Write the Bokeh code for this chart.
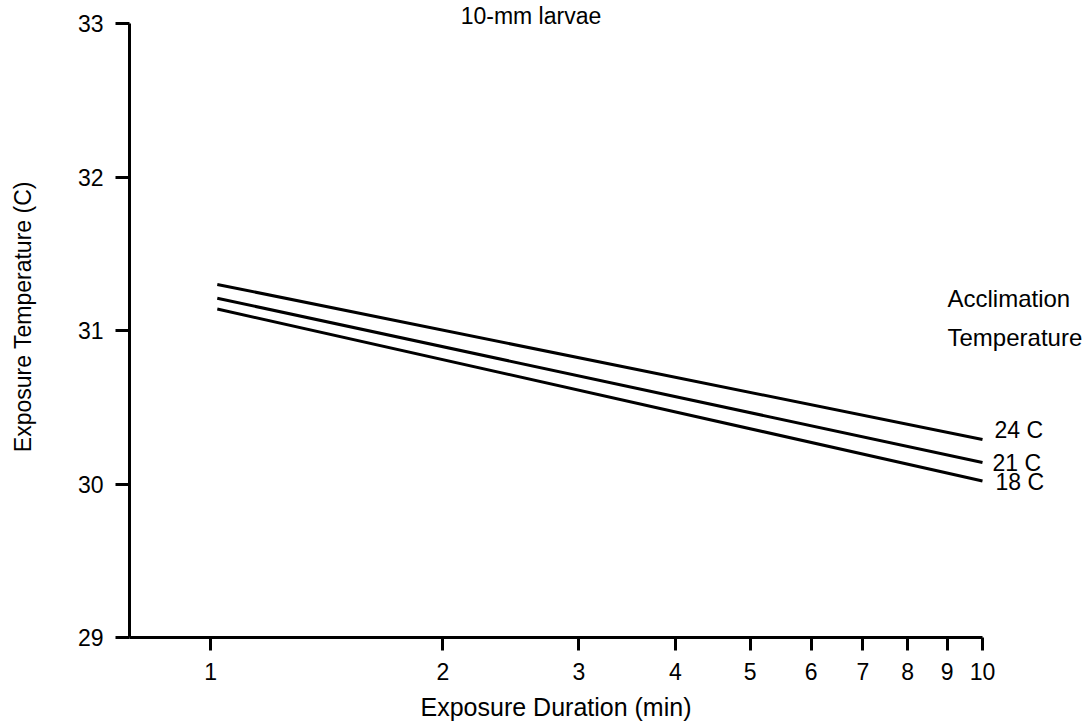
import math
from bokeh.plotting import figure
from bokeh.models import Range1d, FixedTicker, Label, LogAxis, LinearAxis, LogScale
from bokeh.embed import file_html
from bokeh.resources import INLINE

# ---- data ----
durations = [1.02, 10.0]              # exposure duration (min)
temp_24 = [31.30, 30.29]              # acclimation 24 C
temp_21 = [31.21, 30.14]              # acclimation 21 C
temp_18 = [31.14, 30.02]              # acclimation 18 C
series_names = ["24 C", "21 C", "18 C"]
series_values = [temp_24, temp_21, temp_18]
x_ticks = [1, 2, 3, 4, 5, 6, 7, 8, 9, 10]
y_ticks = [29, 30, 31, 32, 33]
x_axis_min, x_axis_max = 0.785, 10
y_axis_min, y_axis_max = 29, 33

FONT = "Liberation Sans"
FS = "23px"
W, H = 1090, 724

# The frame spans the whole canvas so that texts outside the axes box are not clipped;
# the axes are pinned at the data origin with fixed_location.
left_px, right_px, top_px, bottom_px = 129, 982, 23, 637
dec_px = (right_px - left_px) / (math.log10(x_axis_max) - math.log10(x_axis_min))
lx0 = math.log10(x_axis_min) - left_px / dec_px
lx1 = lx0 + W / dec_px
unit_px = (bottom_px - top_px) / (y_axis_max - y_axis_min)
y_top = y_axis_max + top_px / unit_px
y_bot = y_axis_min - (H - bottom_px) / unit_px

p = figure(width=W, height=H, x_axis_type=None, y_axis_type=None,
           x_range=Range1d(10 ** lx0, 10 ** lx1), y_range=Range1d(y_bot, y_top),
           output_backend="svg", toolbar_location=None,
           min_border=0, min_border_left=0, min_border_right=0,
           min_border_top=0, min_border_bottom=0)
p.x_scale = LogScale()
p.outline_line_color = None
p.grid.visible = False
p.background_fill_color = "white"
p.border_fill_color = "white"

for vals in series_values:
    p.line(durations, vals, line_color="black", line_width=3)

xaxis = LogAxis(fixed_location=y_axis_min, bounds=(x_axis_min, x_axis_max),
                ticker=FixedTicker(ticks=x_ticks))
yaxis = LinearAxis(fixed_location=x_axis_min, bounds=(y_axis_min, y_axis_max),
                   ticker=FixedTicker(ticks=y_ticks))
for ax in (xaxis, yaxis):
    ax.axis_line_width = 3
    ax.axis_line_color = "black"
    ax.major_tick_line_width = 3
    ax.major_tick_line_color = "black"
    ax.major_tick_in = 0
    ax.minor_tick_line_color = None
    ax.major_label_text_font = FONT
    ax.major_label_text_font_size = FS
    ax.major_label_text_color = "black"
    ax.axis_label_text_font = FONT
    ax.axis_label_text_font_size = FS
    ax.axis_label_text_font_style = "normal"
    ax.axis_label_text_color = "black"

xaxis.major_label_overrides = {t: str(t) for t in x_ticks}
xaxis.major_tick_out = 13
xaxis.major_label_standoff = 12
xaxis.axis_label = "Exposure Duration (min)"
xaxis.axis_label_text_font_size = "25px"
xaxis.axis_label_standoff = 10

yaxis.major_label_overrides = {t: str(t) for t in y_ticks}
yaxis.major_tick_out = 14
yaxis.major_label_standoff = 12

p.add_layout(xaxis, "below")
p.add_layout(yaxis, "left")

# rotated y axis title (not centred on the axis in the reference)
p.add_layout(Label(x=x_axis_min, y=31.09, x_offset=-107, text="Exposure Temperature (C)",
                   angle=math.pi / 2, text_align="center", text_baseline="middle",
                   text_font=FONT, text_font_size=FS, text_color="black"))

# panel title
p.add_layout(Label(x=2.6, y=y_axis_max, y_offset=8, text="10-mm larvae",
                   text_align="center", text_baseline="middle",
                   text_font=FONT, text_font_size=FS, text_color="black"))

# legend heading
p.add_layout(Label(x=x_axis_max, y=31, x_offset=-35, y_offset=32, text="Acclimation",
                   text_align="left", text_baseline="middle",
                   text_font=FONT, text_font_size="24px", text_color="black"))
p.add_layout(Label(x=x_axis_max, y=31, x_offset=-35, y_offset=-7, text="Temperature",
                   text_align="left", text_baseline="middle",
                   text_font=FONT, text_font_size="24px", text_color="black"))

# series end labels
label_offsets = [(12, 9), (10, 0), (13, -1)]
for name, vals, (dx, dy) in zip(series_names, series_values, label_offsets):
    p.add_layout(Label(x=durations[-1], y=vals[-1], x_offset=dx, y_offset=dy, text=name,
                       text_align="left", text_baseline="middle",
                       text_font=FONT, text_font_size=FS, text_color="black"))

open("out.html", "w").write(file_html(p, INLINE))
